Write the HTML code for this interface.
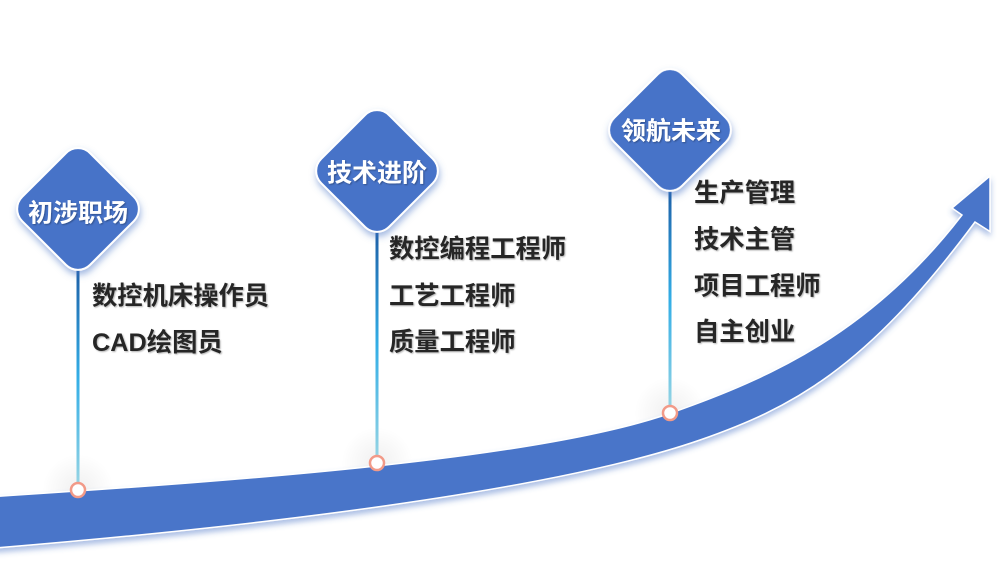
<!DOCTYPE html>
<html>
<head>
<meta charset="utf-8">
<style>
  html,body{margin:0;padding:0;background:#fff;}
  body{width:1008px;height:572px;overflow:hidden;}
  svg{display:block;}
  .t{font-family:"Liberation Sans","Noto Sans CJK SC","WenQuanYi Zen Hei",sans-serif;font-weight:bold;}
</style>
</head>
<body>
<svg width="1008" height="572" viewBox="0 0 1008 572" xmlns="http://www.w3.org/2000/svg">
  <defs>
    <filter id="bandShadow" x="-10%" y="-20%" width="120%" height="160%">
      <feDropShadow dx="0" dy="4" stdDeviation="3" flood-color="#4472c4" flood-opacity="0.45"/>
    </filter>
    <filter id="diaShadow" x="-30%" y="-30%" width="160%" height="170%">
      <feDropShadow dx="1" dy="4" stdDeviation="3.5" flood-color="#4472c4" flood-opacity="0.5"/>
    </filter>
    <filter id="txtShadow" x="-10%" y="-30%" width="120%" height="160%">
      <feDropShadow dx="1" dy="1" stdDeviation="0.7" flood-color="#000" flood-opacity="0.3"/>
    </filter>
    <linearGradient id="vline" x1="0" y1="0" x2="0" y2="1">
      <stop offset="0" stop-color="#1d5ea6"/>
      <stop offset="0.5" stop-color="#33aee6"/>
      <stop offset="1" stop-color="#9ad6e4"/>
    </linearGradient>
    <radialGradient id="halo">
      <stop offset="0" stop-color="#000" stop-opacity="0.06"/>
      <stop offset="1" stop-color="#000" stop-opacity="0"/>
    </radialGradient>
  </defs>

  <!-- halos around circles -->
  <circle cx="78" cy="490" r="36" fill="url(#halo)"/>
  <circle cx="377" cy="463" r="36" fill="url(#halo)"/>
  <circle cx="670" cy="413" r="36" fill="url(#halo)"/>

  <!-- main curved arrow band -->
  <path filter="url(#bandShadow)" fill="#4874c9" stroke="#ffffff" stroke-width="1.5" stroke-linejoin="miter"
    d="M -5,496.5
       C 250,480 541,458.5 671,413
       C 771,378 872,332 962,215
       L 952,208
       L 990,176
       L 990,231.5
       L 975,222
       C 865,370.5 790,408.5 700,440
       C 550,492 250,527 -5,548
       Z"/>

  <!-- vertical connector lines -->
  <rect x="76.5" y="266" width="3" height="224" fill="url(#vline)"/>
  <rect x="375.5" y="228" width="3" height="235" fill="url(#vline)"/>
  <rect x="668.5" y="187" width="3" height="226" fill="url(#vline)"/>

  <!-- circles on band -->
  <circle cx="78" cy="490" r="7" fill="#fff" stroke="#f29a88" stroke-width="2.5"/>
  <circle cx="377" cy="463" r="7" fill="#fff" stroke="#f29a88" stroke-width="2.5"/>
  <circle cx="670" cy="413" r="7" fill="#fff" stroke="#f29a88" stroke-width="2.5"/>

  <!-- diamonds -->
  <g filter="url(#diaShadow)">
    <rect x="-48" y="-48" width="96" height="96" rx="17" ry="17" transform="translate(78,209) rotate(45)" fill="#4773c8" stroke="#fff" stroke-width="2"/>
    <rect x="-48" y="-48" width="96" height="96" rx="17" ry="17" transform="translate(377,171) rotate(45)" fill="#4773c8" stroke="#fff" stroke-width="2"/>
    <rect x="-48" y="-48" width="96" height="96" rx="17" ry="17" transform="translate(670,130) rotate(45)" fill="#4773c8" stroke="#fff" stroke-width="2"/>
  </g>

  <!-- diamond labels -->
  <g class="t" fill="#ffffff" font-size="25" text-anchor="middle" filter="url(#txtShadow)">
    <text x="78" y="221.5">初涉职场</text>
    <text x="377" y="181.5">技术进阶</text>
    <text x="671" y="139.5">领航未来</text>
  </g>

  <!-- list texts -->
  <g class="t" fill="#262626" font-size="25.3" filter="url(#txtShadow)">
    <text x="92" y="304.5">数控机床操作员</text>
    <text x="92" y="351">CAD绘图员</text>

    <text x="389" y="257.5">数控编程工程师</text>
    <text x="389" y="304.5">工艺工程师</text>
    <text x="389" y="350.5">质量工程师</text>

    <text x="694" y="201.5">生产管理</text>
    <text x="694" y="248">技术主管</text>
    <text x="694" y="294.5">项目工程师</text>
    <text x="694" y="340.5">自主创业</text>
  </g>
</svg>
</body>
</html>
